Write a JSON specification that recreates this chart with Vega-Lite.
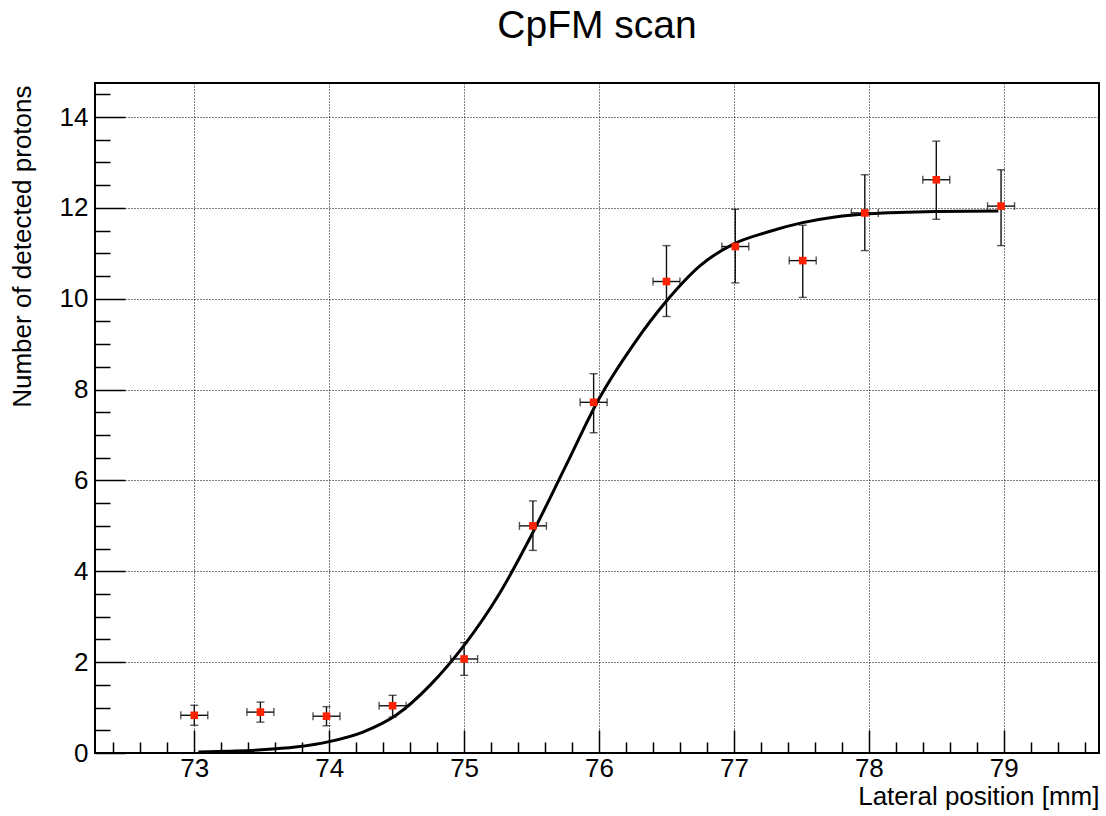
{
  "$schema": "https://vega.github.io/schema/vega-lite/v6.json",
  "width": 1004,
  "height": 670,
  "autosize": {"type": "none"},
  "padding": {"left": 95, "top": 83, "right": 7, "bottom": 63},
  "background": "white",
  "title": {
    "text": "CpFM scan",
    "font": "Liberation Sans",
    "fontSize": 39,
    "fontWeight": "normal",
    "color": "black",
    "anchor": "middle",
    "baseline": "alphabetic",
    "offset": 4
  },
  "config": {
    "view": {"stroke": "black", "strokeWidth": 2},
    "axis": {
      "domain": false,
      "tickColor": "black",
      "tickWidth": 1.5,
      "gridColor": "black",
      "gridDash": [1, 2],
      "gridWidth": 1,
      "labelFont": "Liberation Sans",
      "labelFontSize": 26,
      "labelColor": "black",
      "titleFont": "Liberation Sans",
      "titleFontSize": 26,
      "titleFontWeight": "normal",
      "titleColor": "black",
      "labelOverlap": false,
      "labelFlush": false,
      "tickCount": 200
    }
  },
  "data": {
    "values": [
      {"x": 73.0, "y": 0.83, "xlo": 72.9, "xhi": 73.1, "ylo": 0.61, "yhi": 1.05},
      {"x": 73.49, "y": 0.90, "xlo": 73.39, "xhi": 73.59, "ylo": 0.68, "yhi": 1.12},
      {"x": 73.98, "y": 0.81, "xlo": 73.88, "xhi": 74.08, "ylo": 0.60, "yhi": 1.02},
      {"x": 74.47, "y": 1.04, "xlo": 74.37, "xhi": 74.57, "ylo": 0.79, "yhi": 1.27},
      {"x": 75.0, "y": 2.07, "xlo": 74.9, "xhi": 75.1, "ylo": 1.71, "yhi": 2.43},
      {"x": 75.51, "y": 5.0, "xlo": 75.41, "xhi": 75.61, "ylo": 4.46, "yhi": 5.55},
      {"x": 75.96, "y": 7.72, "xlo": 75.86, "xhi": 76.06, "ylo": 7.05, "yhi": 8.35},
      {"x": 76.5, "y": 10.38, "xlo": 76.4, "xhi": 76.6, "ylo": 9.61, "yhi": 11.17},
      {"x": 77.01, "y": 11.15, "xlo": 76.91, "xhi": 77.11, "ylo": 10.35, "yhi": 11.97},
      {"x": 77.51, "y": 10.84, "xlo": 77.41, "xhi": 77.61, "ylo": 10.03, "yhi": 11.62},
      {"x": 77.97, "y": 11.89, "xlo": 77.87, "xhi": 78.07, "ylo": 11.06, "yhi": 12.73},
      {"x": 78.5, "y": 12.62, "xlo": 78.4, "xhi": 78.6, "ylo": 11.75, "yhi": 13.47},
      {"x": 78.98, "y": 12.04, "xlo": 78.88, "xhi": 79.08, "ylo": 11.17, "yhi": 12.84}
    ]
  },
  "layer": [
    {
      "data": {
        "values": [
          {"fx": 73.03, "fy": 0.02},
          {"fx": 73.25, "fy": 0.04},
          {"fx": 73.5, "fy": 0.07},
          {"fx": 73.75, "fy": 0.13},
          {"fx": 74.0, "fy": 0.25},
          {"fx": 74.25, "fy": 0.46},
          {"fx": 74.5, "fy": 0.84},
          {"fx": 74.75, "fy": 1.5},
          {"fx": 75.0, "fy": 2.37},
          {"fx": 75.25, "fy": 3.45},
          {"fx": 75.5, "fy": 4.8},
          {"fx": 75.75, "fy": 6.3},
          {"fx": 76.0, "fy": 7.8},
          {"fx": 76.25, "fy": 8.97},
          {"fx": 76.5, "fy": 9.95},
          {"fx": 76.75, "fy": 10.73},
          {"fx": 77.0, "fy": 11.21},
          {"fx": 77.25, "fy": 11.47},
          {"fx": 77.5, "fy": 11.67},
          {"fx": 77.75, "fy": 11.8},
          {"fx": 78.0, "fy": 11.87},
          {"fx": 78.5, "fy": 11.92},
          {"fx": 78.96, "fy": 11.93}
        ]
      },
      "mark": {"type": "line", "color": "black", "strokeWidth": 3, "interpolate": "monotone"},
      "encoding": {
        "x": {
          "field": "fx", "type": "quantitative",
          "scale": {"domain": [72.264, 79.706], "nice": false, "zero": false},
          "axis": {
            "title": "Lateral position [mm]",
            "tickCount": 200,
            "values": [72.4,72.6,72.8,73,73.2,73.4,73.6,73.8,74,74.2,74.4,74.6,74.8,75,75.2,75.4,75.6,75.8,76,76.2,76.4,76.6,76.8,77,77.2,77.4,77.6,77.8,78,78.2,78.4,78.6,78.8,79,79.2,79.4,79.6],
            "labelExpr": "abs(datum.value - round(datum.value)) < 0.001 ? '' + round(datum.value) : ''",
            "tickSize": {"condition": {"test": "abs(datum.value - round(datum.value)) < 0.001", "value": -23}, "value": -11},
            "gridOpacity": {"condition": {"test": "abs(datum.value - round(datum.value)) < 0.001", "value": 1}, "value": 0},
            "grid": true,
            "labelBaseline": "alphabetic",
            "labelPadding": 46,
            "titleAlign": "right",
            "titleAnchor": "end",
            "titleBaseline": "alphabetic",
            "titleX": 1004,
            "titleY": 51
          }
        },
        "y": {
          "field": "fy", "type": "quantitative",
          "scale": {"domain": [0, 14.75], "nice": false, "zero": false},
          "axis": {
            "title": "Number of detected protons",
            "tickCount": 200,
            "values": [0,0.5,1,1.5,2,2.5,3,3.5,4,4.5,5,5.5,6,6.5,7,7.5,8,8.5,9,9.5,10,10.5,11,11.5,12,12.5,13,13.5,14,14.5],
            "labelExpr": "abs(datum.value/2 - round(datum.value/2)) < 0.001 ? '' + round(datum.value) : ''",
            "tickSize": {"condition": {"test": "abs(datum.value/2 - round(datum.value/2)) < 0.001", "value": -30}, "value": -15},
            "gridOpacity": {"condition": {"test": "abs(datum.value/2 - round(datum.value/2)) < 0.001", "value": 1}, "value": 0},
            "grid": true,
            "labelBaseline": "middle",
            "labelPadding": 37,
            "titleAngle": 270,
            "titleAlign": "right",
            "titleBaseline": "middle",
            "titleX": -73,
            "titleY": 2
          }
        }
      }
    },
    {
      "mark": {"type": "rule", "color": "#111111", "strokeWidth": 1.4},
      "encoding": {
        "x": {"field": "x", "type": "quantitative", "title": "Lateral position [mm]"},
        "y": {"field": "ylo", "type": "quantitative", "title": "Number of detected protons"},
        "y2": {"field": "yhi"}
      }
    },
    {
      "mark": {"type": "rule", "color": "#111111", "strokeWidth": 1.4},
      "encoding": {
        "x": {"field": "xlo", "type": "quantitative", "title": "Lateral position [mm]"},
        "x2": {"field": "xhi"},
        "y": {"field": "y", "type": "quantitative", "title": "Number of detected protons"}
      }
    },
    {
      "mark": {"type": "tick", "orient": "horizontal", "color": "#111111", "size": 8, "thickness": 1.4},
      "encoding": {
        "x": {"field": "x", "type": "quantitative", "title": "Lateral position [mm]"},
        "y": {"field": "ylo", "type": "quantitative", "title": "Number of detected protons"}
      }
    },
    {
      "mark": {"type": "tick", "orient": "horizontal", "color": "#111111", "size": 8, "thickness": 1.4},
      "encoding": {
        "x": {"field": "x", "type": "quantitative", "title": "Lateral position [mm]"},
        "y": {"field": "yhi", "type": "quantitative", "title": "Number of detected protons"}
      }
    },
    {
      "mark": {"type": "tick", "orient": "vertical", "color": "#111111", "size": 8, "thickness": 1.4},
      "encoding": {
        "x": {"field": "xlo", "type": "quantitative", "title": "Lateral position [mm]"},
        "y": {"field": "y", "type": "quantitative", "title": "Number of detected protons"}
      }
    },
    {
      "mark": {"type": "tick", "orient": "vertical", "color": "#111111", "size": 8, "thickness": 1.4},
      "encoding": {
        "x": {"field": "xhi", "type": "quantitative", "title": "Lateral position [mm]"},
        "y": {"field": "y", "type": "quantitative", "title": "Number of detected protons"}
      }
    },
    {
      "mark": {"type": "point", "shape": "square", "filled": true, "color": "#ff2200", "size": 58, "opacity": 1},
      "encoding": {
        "x": {"field": "x", "type": "quantitative", "title": "Lateral position [mm]"},
        "y": {"field": "y", "type": "quantitative", "title": "Number of detected protons"}
      }
    }
  ]
}
